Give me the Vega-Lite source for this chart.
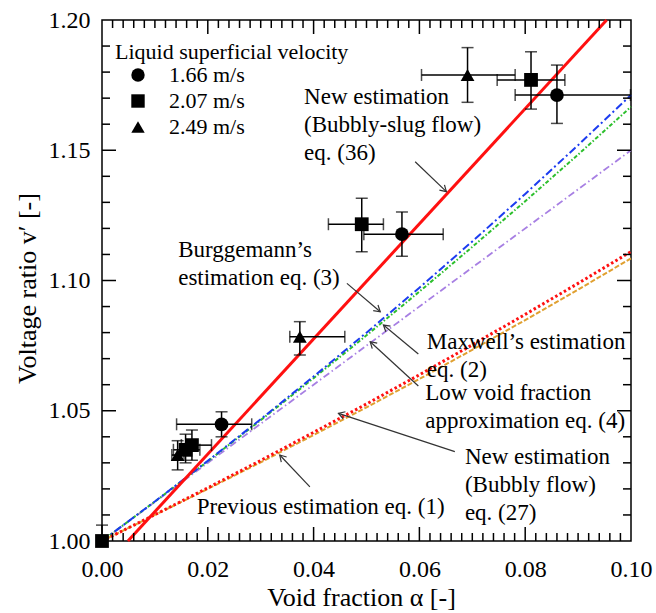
{
  "$schema": "https://vega.github.io/schema/vega-lite/v6.json",
  "width": 529,
  "height": 521,
  "autosize": {"type": "none"},
  "padding": {"left": 102, "top": 20, "right": 25, "bottom": 72},
  "background": "white",
  "config": {
    "font": "Liberation Serif",
    "view": {"stroke": "black", "strokeWidth": 1.5},
    "axis": {"domain": false, "grid": false, "labelColor": "black", "titleColor": "black", "labelFont": "Liberation Serif", "titleFont": "Liberation Serif", "titleFontWeight": "normal"}
  },
  "datasets": {
    "xt": [
      {"t": 0.002, "edge": 1.0}, {"t": 0.004, "edge": 1.0}, {"t": 0.006, "edge": 1.0}, {"t": 0.008, "edge": 1.0}, {"t": 0.01, "edge": 1.0}, {"t": 0.012, "edge": 1.0}, {"t": 0.014, "edge": 1.0}, {"t": 0.016, "edge": 1.0}, {"t": 0.018, "edge": 1.0}, {"t": 0.02, "edge": 1.0},
      {"t": 0.022, "edge": 1.0}, {"t": 0.024, "edge": 1.0}, {"t": 0.026, "edge": 1.0}, {"t": 0.028, "edge": 1.0}, {"t": 0.03, "edge": 1.0}, {"t": 0.032, "edge": 1.0}, {"t": 0.034, "edge": 1.0}, {"t": 0.036, "edge": 1.0}, {"t": 0.038, "edge": 1.0}, {"t": 0.04, "edge": 1.0},
      {"t": 0.042, "edge": 1.0}, {"t": 0.044, "edge": 1.0}, {"t": 0.046, "edge": 1.0}, {"t": 0.048, "edge": 1.0}, {"t": 0.05, "edge": 1.0}, {"t": 0.052, "edge": 1.0}, {"t": 0.054, "edge": 1.0}, {"t": 0.056, "edge": 1.0}, {"t": 0.058, "edge": 1.0}, {"t": 0.06, "edge": 1.0},
      {"t": 0.062, "edge": 1.0}, {"t": 0.064, "edge": 1.0}, {"t": 0.066, "edge": 1.0}, {"t": 0.068, "edge": 1.0}, {"t": 0.07, "edge": 1.0}, {"t": 0.072, "edge": 1.0}, {"t": 0.074, "edge": 1.0}, {"t": 0.076, "edge": 1.0}, {"t": 0.078, "edge": 1.0}, {"t": 0.08, "edge": 1.0},
      {"t": 0.082, "edge": 1.0}, {"t": 0.084, "edge": 1.0}, {"t": 0.086, "edge": 1.0}, {"t": 0.088, "edge": 1.0}, {"t": 0.09, "edge": 1.0}, {"t": 0.092, "edge": 1.0}, {"t": 0.094, "edge": 1.0}, {"t": 0.096, "edge": 1.0}, {"t": 0.098, "edge": 1.0},
      {"t": 0.002, "edge": 1.2}, {"t": 0.004, "edge": 1.2}, {"t": 0.006, "edge": 1.2}, {"t": 0.008, "edge": 1.2}, {"t": 0.01, "edge": 1.2}, {"t": 0.012, "edge": 1.2}, {"t": 0.014, "edge": 1.2}, {"t": 0.016, "edge": 1.2}, {"t": 0.018, "edge": 1.2}, {"t": 0.02, "edge": 1.2},
      {"t": 0.022, "edge": 1.2}, {"t": 0.024, "edge": 1.2}, {"t": 0.026, "edge": 1.2}, {"t": 0.028, "edge": 1.2}, {"t": 0.03, "edge": 1.2}, {"t": 0.032, "edge": 1.2}, {"t": 0.034, "edge": 1.2}, {"t": 0.036, "edge": 1.2}, {"t": 0.038, "edge": 1.2}, {"t": 0.04, "edge": 1.2},
      {"t": 0.042, "edge": 1.2}, {"t": 0.044, "edge": 1.2}, {"t": 0.046, "edge": 1.2}, {"t": 0.048, "edge": 1.2}, {"t": 0.05, "edge": 1.2}, {"t": 0.052, "edge": 1.2}, {"t": 0.054, "edge": 1.2}, {"t": 0.056, "edge": 1.2}, {"t": 0.058, "edge": 1.2}, {"t": 0.06, "edge": 1.2},
      {"t": 0.062, "edge": 1.2}, {"t": 0.064, "edge": 1.2}, {"t": 0.066, "edge": 1.2}, {"t": 0.068, "edge": 1.2}, {"t": 0.07, "edge": 1.2}, {"t": 0.072, "edge": 1.2}, {"t": 0.074, "edge": 1.2}, {"t": 0.076, "edge": 1.2}, {"t": 0.078, "edge": 1.2}, {"t": 0.08, "edge": 1.2},
      {"t": 0.082, "edge": 1.2}, {"t": 0.084, "edge": 1.2}, {"t": 0.086, "edge": 1.2}, {"t": 0.088, "edge": 1.2}, {"t": 0.09, "edge": 1.2}, {"t": 0.092, "edge": 1.2}, {"t": 0.094, "edge": 1.2}, {"t": 0.096, "edge": 1.2}, {"t": 0.098, "edge": 1.2}
    ],
    "yt": [
      {"t": 1.01, "edge": 0}, {"t": 1.02, "edge": 0}, {"t": 1.03, "edge": 0}, {"t": 1.04, "edge": 0}, {"t": 1.05, "edge": 0}, {"t": 1.06, "edge": 0}, {"t": 1.07, "edge": 0}, {"t": 1.08, "edge": 0}, {"t": 1.09, "edge": 0}, {"t": 1.1, "edge": 0},
      {"t": 1.11, "edge": 0}, {"t": 1.12, "edge": 0}, {"t": 1.13, "edge": 0}, {"t": 1.14, "edge": 0}, {"t": 1.15, "edge": 0}, {"t": 1.16, "edge": 0}, {"t": 1.17, "edge": 0}, {"t": 1.18, "edge": 0}, {"t": 1.19, "edge": 0},
      {"t": 1.01, "edge": 0.1}, {"t": 1.02, "edge": 0.1}, {"t": 1.03, "edge": 0.1}, {"t": 1.04, "edge": 0.1}, {"t": 1.05, "edge": 0.1}, {"t": 1.06, "edge": 0.1}, {"t": 1.07, "edge": 0.1}, {"t": 1.08, "edge": 0.1}, {"t": 1.09, "edge": 0.1}, {"t": 1.1, "edge": 0.1},
      {"t": 1.11, "edge": 0.1}, {"t": 1.12, "edge": 0.1}, {"t": 1.13, "edge": 0.1}, {"t": 1.14, "edge": 0.1}, {"t": 1.15, "edge": 0.1}, {"t": 1.16, "edge": 0.1}, {"t": 1.17, "edge": 0.1}, {"t": 1.18, "edge": 0.1}, {"t": 1.19, "edge": 0.1}
    ],
    "lines": [
      {"series": "eq36", "a": 0.0049, "v": 1.0},
      {"series": "eq36", "a": 0.0954, "v": 1.2},
      {"series": "eq3", "a": 0.0, "v": 1.0},
      {"series": "eq3", "a": 0.01, "v": 1.01519},
      {"series": "eq3", "a": 0.02, "v": 1.03077},
      {"series": "eq3", "a": 0.03, "v": 1.04675},
      {"series": "eq3", "a": 0.04, "v": 1.06315},
      {"series": "eq3", "a": 0.05, "v": 1.07998},
      {"series": "eq3", "a": 0.06, "v": 1.09726},
      {"series": "eq3", "a": 0.07, "v": 1.115},
      {"series": "eq3", "a": 0.08, "v": 1.13323},
      {"series": "eq3", "a": 0.09, "v": 1.15196},
      {"series": "eq3", "a": 0.1, "v": 1.17121},
      {"series": "eq2", "a": 0.0, "v": 1.0},
      {"series": "eq2", "a": 0.01, "v": 1.01515},
      {"series": "eq2", "a": 0.02, "v": 1.03061},
      {"series": "eq2", "a": 0.03, "v": 1.04639},
      {"series": "eq2", "a": 0.04, "v": 1.0625},
      {"series": "eq2", "a": 0.05, "v": 1.07895},
      {"series": "eq2", "a": 0.06, "v": 1.09574},
      {"series": "eq2", "a": 0.07, "v": 1.1129},
      {"series": "eq2", "a": 0.08, "v": 1.13043},
      {"series": "eq2", "a": 0.09, "v": 1.14835},
      {"series": "eq2", "a": 0.1, "v": 1.16667},
      {"series": "eq4", "a": 0.0, "v": 1.0},
      {"series": "eq4", "a": 0.05, "v": 1.075},
      {"series": "eq4", "a": 0.1, "v": 1.15},
      {"series": "eq1", "a": 0.0, "v": 1.0},
      {"series": "eq1", "a": 0.01, "v": 1.0101},
      {"series": "eq1", "a": 0.02, "v": 1.0204},
      {"series": "eq1", "a": 0.03, "v": 1.0309},
      {"series": "eq1", "a": 0.04, "v": 1.0417},
      {"series": "eq1", "a": 0.05, "v": 1.0526},
      {"series": "eq1", "a": 0.06, "v": 1.0638},
      {"series": "eq1", "a": 0.07, "v": 1.0753},
      {"series": "eq1", "a": 0.08, "v": 1.087},
      {"series": "eq1", "a": 0.09, "v": 1.0989},
      {"series": "eq1", "a": 0.1, "v": 1.1111},
      {"series": "eq27", "a": 0.0, "v": 1.0},
      {"series": "eq27", "a": 0.01, "v": 1.01},
      {"series": "eq27", "a": 0.02, "v": 1.02},
      {"series": "eq27", "a": 0.03, "v": 1.0302},
      {"series": "eq27", "a": 0.04, "v": 1.0407},
      {"series": "eq27", "a": 0.05, "v": 1.0513},
      {"series": "eq27", "a": 0.06, "v": 1.0622},
      {"series": "eq27", "a": 0.07, "v": 1.0734},
      {"series": "eq27", "a": 0.08, "v": 1.0848},
      {"series": "eq27", "a": 0.09, "v": 1.0965},
      {"series": "eq27", "a": 0.1, "v": 1.1085}
    ],
    "pts": [
      {"vel": "1.66 m/s", "a": 0.0226, "v": 1.0448, "aLo": 0.0141, "aHi": 0.0283, "vLo": 1.04, "vHi": 1.0496},
      {"vel": "1.66 m/s", "a": 0.0567, "v": 1.1178, "aLo": 0.0495, "aHi": 0.0645, "vLo": 1.1093, "vHi": 1.1263},
      {"vel": "1.66 m/s", "a": 0.086, "v": 1.1712, "aLo": 0.0781, "aHi": 0.0999, "vLo": 1.1603, "vHi": 1.1827},
      {"vel": "2.07 m/s", "a": 0.0, "v": 1.0, "aLo": 0.0, "aHi": 0.0, "vLo": 1.0, "vHi": 1.0061},
      {"vel": "2.07 m/s", "a": 0.0158, "v": 1.035, "aLo": 0.0135, "aHi": 0.0185, "vLo": 1.03, "vHi": 1.041},
      {"vel": "2.07 m/s", "a": 0.017, "v": 1.0368, "aLo": 0.015, "aHi": 0.0207, "vLo": 1.031, "vHi": 1.0426},
      {"vel": "2.07 m/s", "a": 0.0491, "v": 1.1216, "aLo": 0.0428, "aHi": 0.0532, "vLo": 1.111, "vHi": 1.1316},
      {"vel": "2.07 m/s", "a": 0.0811, "v": 1.177, "aLo": 0.0747, "aHi": 0.0875, "vLo": 1.1658, "vHi": 1.1878},
      {"vel": "2.49 m/s", "a": 0.0143, "v": 1.033, "aLo": 0.0132, "aHi": 0.0155, "vLo": 1.0273, "vHi": 1.0385},
      {"vel": "2.49 m/s", "a": 0.0374, "v": 1.0784, "aLo": 0.0355, "aHi": 0.0459, "vLo": 1.0714, "vHi": 1.0842},
      {"vel": "2.49 m/s", "a": 0.0691, "v": 1.1789, "aLo": 0.0604, "aHi": 0.0781, "vLo": 1.1684, "vHi": 1.1894}
    ],
    "notes": [
      {"label": "New estimation\n(Bubbly-slug flow)\neq. (36)", "a": 0.0382, "v": 1.1704},
      {"label": "Burggemann’s\nestimation eq. (3)", "a": 0.0144, "v": 1.1117},
      {"label": "Maxwell’s estimation\neq. (2)", "a": 0.0614, "v": 1.0765},
      {"label": "Low void fraction\napproximation eq. (4)", "a": 0.0611, "v": 1.0567},
      {"label": "New estimation\n(Bubbly flow)\neq. (27)", "a": 0.0686, "v": 1.0324},
      {"label": "Previous estimation eq. (1)", "a": 0.0179, "v": 1.0132}
    ],
    "arrows": [
      {"id": 1, "a": 0.0592, "v": 1.1456, "a2": 0.0651, "v2": 1.1341},
      {"id": 2, "a": 0.0463, "v": 1.0989, "a2": 0.0526, "v2": 1.088},
      {"id": 3, "a": 0.0598, "v": 1.0718, "a2": 0.0532, "v2": 1.0829},
      {"id": 4, "a": 0.0598, "v": 1.0595, "a2": 0.0507, "v2": 1.0765},
      {"id": 5, "a": 0.0667, "v": 1.0343, "a2": 0.0447, "v2": 1.049},
      {"id": 6, "a": 0.0393, "v": 1.0208, "a2": 0.0336, "v2": 1.033}
    ]
  },
  "resolve": {"axis": {"x": "independent", "y": "independent"}},
  "layer": [
    {
      "data": {"name": "lines"},
      "transform": [{"filter": "datum.series === 'eq4'"}],
      "mark": {"type": "line", "color": "#a77fe3", "strokeWidth": 1.8, "strokeDash": [7, 3, 1.5, 3]},
      "encoding": {
        "x": {"field": "a", "type": "quantitative", "scale": {"domain": [0, 0.1], "nice": false, "zero": false},
          "axis": {"orient": "bottom", "values": [0, 0.02, 0.04, 0.06, 0.08, 0.1], "format": ".2f",
            "ticks": false, "labelFontSize": 24, "labelPadding": 16, "labelFlush": false, "labelOverlap": false,
            "title": "Void fraction α [-]", "titleFontSize": 26, "titleX": 259, "titleY": 56, "titleBaseline": "middle"}},
        "y": {"field": "v", "type": "quantitative", "scale": {"domain": [1.0, 1.2], "nice": false, "zero": false},
          "axis": {"orient": "left", "values": [1.0, 1.05, 1.1, 1.15, 1.2], "format": ".2f",
            "ticks": false, "labelFontSize": 24, "labelPadding": 12, "labelFlush": false, "labelOverlap": false,
            "title": "Voltage ratio v′ [-]", "titleFontSize": 26, "titleX": -75, "titleY": 268, "titleBaseline": "middle"}}
      }
    },
    {
      "data": {"name": "lines"},
      "transform": [{"filter": "datum.series === 'eq2'"}],
      "mark": {"type": "line", "color": "#2dbf2d", "strokeWidth": 2, "strokeDash": [4, 2, 1.5, 2]},
      "encoding": {
        "x": {"field": "a", "type": "quantitative", "axis": null},
        "y": {"field": "v", "type": "quantitative", "axis": null}
      }
    },
    {
      "data": {"name": "lines"},
      "transform": [{"filter": "datum.series === 'eq3'"}],
      "mark": {"type": "line", "color": "#1c3cf0", "strokeWidth": 2, "strokeDash": [8, 3, 2, 3]},
      "encoding": {
        "x": {"field": "a", "type": "quantitative", "axis": null},
        "y": {"field": "v", "type": "quantitative", "axis": null}
      }
    },
    {
      "data": {"name": "lines"},
      "transform": [{"filter": "datum.series === 'eq27'"}],
      "mark": {"type": "line", "color": "#e0a030", "strokeWidth": 2, "strokeDash": [5, 2]},
      "encoding": {
        "x": {"field": "a", "type": "quantitative", "axis": null},
        "y": {"field": "v", "type": "quantitative", "axis": null}
      }
    },
    {
      "data": {"name": "lines"},
      "transform": [{"filter": "datum.series === 'eq1'"}],
      "mark": {"type": "line", "color": "#ff1010", "strokeWidth": 3, "strokeDash": [2.5, 2.5]},
      "encoding": {
        "x": {"field": "a", "type": "quantitative", "axis": null},
        "y": {"field": "v", "type": "quantitative", "axis": null}
      }
    },
    {
      "data": {"name": "lines"},
      "transform": [{"filter": "datum.series === 'eq36'"}],
      "mark": {"type": "line", "color": "#ff1010", "strokeWidth": 3},
      "encoding": {
        "x": {"field": "a", "type": "quantitative", "axis": null},
        "y": {"field": "v", "type": "quantitative", "axis": null}
      }
    },
    {
      "data": {"name": "pts"},
      "mark": {"type": "errorbar", "ticks": true, "size": 12, "thickness": 1.5, "color": "black"},
      "encoding": {
        "x": {"field": "aLo", "type": "quantitative", "axis": null},
        "x2": {"field": "aHi"},
        "y": {"field": "v", "type": "quantitative", "axis": null}
      }
    },
    {
      "data": {"name": "pts"},
      "mark": {"type": "errorbar", "ticks": true, "size": 12, "thickness": 1.5, "color": "black"},
      "encoding": {
        "y": {"field": "vLo", "type": "quantitative", "axis": null},
        "y2": {"field": "vHi"},
        "x": {"field": "a", "type": "quantitative", "axis": null}
      }
    },
    {
      "data": {"name": "pts"},
      "mark": {"type": "point", "filled": true, "color": "black", "opacity": 1, "strokeWidth": 0, "size": 190},
      "encoding": {
        "x": {"field": "a", "type": "quantitative", "axis": null},
        "y": {"field": "v", "type": "quantitative", "axis": null},
        "shape": {"field": "vel", "type": "nominal",
          "scale": {"domain": ["1.66 m/s", "2.07 m/s", "2.49 m/s"], "range": ["circle", "square", "triangle-up"]},
          "legend": {"title": "Liquid superficial velocity", "orient": "none", "legendX": 13, "legendY": 22, "padding": 0,
            "titleFont": "Liberation Serif", "titleFontSize": 22, "titleFontWeight": "normal", "titleColor": "black", "titlePadding": 0, "titleLimit": 400,
            "labelFont": "Liberation Serif", "labelFontSize": 22, "labelColor": "black", "labelLimit": 300, "symbolSize": 180,
            "symbolFillColor": "black", "symbolStrokeColor": "black", "symbolStrokeWidth": 0, "symbolOffset": 12, "labelOffset": 20, "rowPadding": 4}}
      }
    },
    {
      "data": {"name": "arrows"},
      "mark": {"type": "rule", "color": "#333333", "strokeWidth": 1.2},
      "encoding": {
        "x": {"field": "a", "type": "quantitative", "axis": null},
        "y": {"field": "v", "type": "quantitative", "axis": null},
        "x2": {"field": "a2"},
        "y2": {"field": "v2"}
      }
    },
    {
      "data": {"name": "arrows"},
      "mark": {"type": "point", "shape": "M-1,-0.6L0,0L-1,0.6", "filled": false, "stroke": "#333333", "strokeWidth": 1.2, "size": 150, "opacity": 1},
      "encoding": {
        "x": {"field": "a2", "type": "quantitative", "axis": null},
        "y": {"field": "v2", "type": "quantitative", "axis": null},
        "angle": {"field": "id", "type": "nominal", "scale": {"type": "ordinal", "domain": [1, 2, 3, 4, 5, 6], "range": [43.4, 40.5, 219.6, 222.5, 198.2, 226.6]}, "legend": null}
      }
    },
    {
      "data": {"name": "notes"},
      "mark": {"type": "text", "align": "left", "baseline": "middle", "font": "Liberation Serif", "fontSize": 23, "lineBreak": "\n", "lineHeight": 28, "color": "black"},
      "encoding": {
        "x": {"field": "a", "type": "quantitative", "axis": null},
        "y": {"field": "v", "type": "quantitative", "axis": null},
        "text": {"field": "label", "type": "nominal"}
      }
    },
    {
      "data": {"name": "xt"},
      "transform": [{"filter": "datum.edge < 1.1 && round(datum.t * 500) % 10 === 0"}],
      "mark": {"type": "tick", "orient": "vertical", "color": "black", "opacity": 1, "size": 14, "thickness": 1.5, "yOffset": -7},
      "encoding": {"x": {"field": "t", "type": "quantitative", "axis": null}, "y": {"field": "edge", "type": "quantitative", "axis": null}}
    },
    {
      "data": {"name": "xt"},
      "transform": [{"filter": "datum.edge < 1.1 && round(datum.t * 500) % 10 !== 0"}],
      "mark": {"type": "tick", "orient": "vertical", "color": "black", "opacity": 1, "size": 8, "thickness": 1.5, "yOffset": -4},
      "encoding": {"x": {"field": "t", "type": "quantitative", "axis": null}, "y": {"field": "edge", "type": "quantitative", "axis": null}}
    },
    {
      "data": {"name": "xt"},
      "transform": [{"filter": "datum.edge > 1.1 && round(datum.t * 500) % 10 === 0"}],
      "mark": {"type": "tick", "orient": "vertical", "color": "black", "opacity": 1, "size": 14, "thickness": 1.5, "yOffset": 7},
      "encoding": {"x": {"field": "t", "type": "quantitative", "axis": null}, "y": {"field": "edge", "type": "quantitative", "axis": null}}
    },
    {
      "data": {"name": "xt"},
      "transform": [{"filter": "datum.edge > 1.1 && round(datum.t * 500) % 10 !== 0"}],
      "mark": {"type": "tick", "orient": "vertical", "color": "black", "opacity": 1, "size": 8, "thickness": 1.5, "yOffset": 4},
      "encoding": {"x": {"field": "t", "type": "quantitative", "axis": null}, "y": {"field": "edge", "type": "quantitative", "axis": null}}
    },
    {
      "data": {"name": "yt"},
      "transform": [{"filter": "datum.edge < 0.05 && round(datum.t * 100) % 5 === 0"}],
      "mark": {"type": "tick", "orient": "horizontal", "color": "black", "opacity": 1, "size": 14, "thickness": 1.5, "xOffset": 7},
      "encoding": {"y": {"field": "t", "type": "quantitative", "axis": null}, "x": {"field": "edge", "type": "quantitative", "axis": null}}
    },
    {
      "data": {"name": "yt"},
      "transform": [{"filter": "datum.edge < 0.05 && round(datum.t * 100) % 5 !== 0"}],
      "mark": {"type": "tick", "orient": "horizontal", "color": "black", "opacity": 1, "size": 8, "thickness": 1.5, "xOffset": 4},
      "encoding": {"y": {"field": "t", "type": "quantitative", "axis": null}, "x": {"field": "edge", "type": "quantitative", "axis": null}}
    },
    {
      "data": {"name": "yt"},
      "transform": [{"filter": "datum.edge > 0.05 && round(datum.t * 100) % 5 === 0"}],
      "mark": {"type": "tick", "orient": "horizontal", "color": "black", "opacity": 1, "size": 14, "thickness": 1.5, "xOffset": -7},
      "encoding": {"y": {"field": "t", "type": "quantitative", "axis": null}, "x": {"field": "edge", "type": "quantitative", "axis": null}}
    },
    {
      "data": {"name": "yt"},
      "transform": [{"filter": "datum.edge > 0.05 && round(datum.t * 100) % 5 !== 0"}],
      "mark": {"type": "tick", "orient": "horizontal", "color": "black", "opacity": 1, "size": 8, "thickness": 1.5, "xOffset": -4},
      "encoding": {"y": {"field": "t", "type": "quantitative", "axis": null}, "x": {"field": "edge", "type": "quantitative", "axis": null}}
    }
  ]
}
